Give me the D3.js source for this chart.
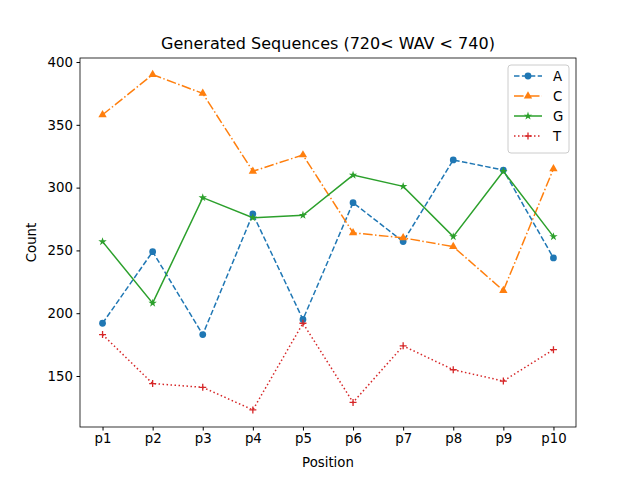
<!DOCTYPE html>
<html><head><meta charset="utf-8">
<script src="https://cdn.jsdelivr.net/npm/d3@7"></script>
<style>body{margin:0;background:#fff}text{font-family:"DejaVu Sans",sans-serif}</style>
</head><body><svg id="c" width="640" height="480"></svg>
<script>
const categories=["p1","p2","p3","p4","p5","p6","p7","p8","p9","p10"];
const seriesA=[192,249,183,279,195,288,257,322,314,244];
const seriesC=[358,390,375,313,326,264,260,253,218,315];
const seriesG=[257,208,292,276,278,310,301,261,313,261];
const seriesT=[183,144,141,123,192,129,174,155,146,171];
const yTicks=[150,200,250,300,350,400];
const series=[
 {name:"A",values:seriesA,color:"#1f77b4",dash:"5.5,2.4",marker:"circle"},
 {name:"C",values:seriesC,color:"#ff7f0e",dash:"9.6,2.4,1.5,2.4",marker:"triangle"},
 {name:"G",values:seriesG,color:"#2ca02c",dash:null,marker:"star"},
 {name:"T",values:seriesT,color:"#d62728",dash:"1.5,2.5",marker:"plus"}];
const L=80,R=576,T=58,B=427;
const svg=d3.select("#c");
const x=d3.scaleLinear().domain([-0.45,9.45]).range([L,R]);
const y=d3.scaleLinear().domain([109.4,403.2]).range([B,T]);
svg.append("g").attr("transform",`translate(0,${B})`).call(d3.axisBottom(x).tickValues(d3.range(10)).tickFormat(i=>categories[i]).tickSizeOuter(0).tickSize(3.5).tickPadding(3.5));
svg.append("g").attr("transform",`translate(${L},0)`).call(d3.axisLeft(y).tickValues(yTicks).tickSizeOuter(0).tickSize(3.5).tickPadding(3.5));
svg.selectAll(".tick text").attr("font-size",13.3).attr("fill","#000");
svg.selectAll(".domain").remove();
svg.append("rect").attr("x",L).attr("y",T).attr("width",R-L).attr("height",B-T).attr("fill","none").attr("stroke","#000").attr("stroke-width",0.8);
const sym={circle:d3.symbolCircle,triangle:d3.symbolTriangle,star:d3.symbolStar,plus:d3.symbolCross};
function marker(g,s,cx,cy){
 if(s.marker==="plus"){g.append("path").attr("d",`M${cx-3.5},${cy}H${cx+3.5}M${cx},${cy-3.5}V${cy+3.5}`).attr("stroke",s.color).attr("stroke-width",1.3);return;}
 const size={circle:36,triangle:30,star:22}[s.marker];
 g.append("path").attr("d",d3.symbol(sym[s.marker],size)()).attr("transform",`translate(${cx},${cy})`).attr("fill",s.color);
}
const line=d3.line().x((d,i)=>x(i)).y(d=>y(d));
series.forEach(s=>{
 svg.append("path").attr("d",line(s.values)).attr("fill","none").attr("stroke",s.color).attr("stroke-width",1.5).attr("stroke-dasharray",s.dash);
 const g=svg.append("g");
 s.values.forEach((v,i)=>marker(g,s,x(i),y(v)));
});
svg.append("text").attr("x",(L+R)/2).attr("y",T-9).attr("text-anchor","middle").attr("font-size",16).text("Generated Sequences (720< WAV < 740)");
svg.append("text").attr("x",(L+R)/2).attr("y",467).attr("text-anchor","middle").attr("font-size",13.3).text("Position");
svg.append("text").attr("transform",`translate(36,${(T+B)/2}) rotate(-90)`).attr("text-anchor","middle").attr("font-size",13.3).text("Count");
const lg=svg.append("g");
lg.append("rect").attr("x",508).attr("y",65).attr("width",61).attr("height",88).attr("rx",3).attr("fill","#fff").attr("fill-opacity",0.8).attr("stroke","#ccc");
series.forEach((s,i)=>{
 const yy=76+i*20;
 lg.append("line").attr("x1",514).attr("x2",542).attr("y1",yy).attr("y2",yy).attr("stroke",s.color).attr("stroke-width",1.5).attr("stroke-dasharray",s.dash);
 marker(lg,s,528,yy);
 lg.append("text").attr("x",553).attr("y",yy+4.5).attr("font-size",13.3).text(s.name);
});
</script></body></html>
